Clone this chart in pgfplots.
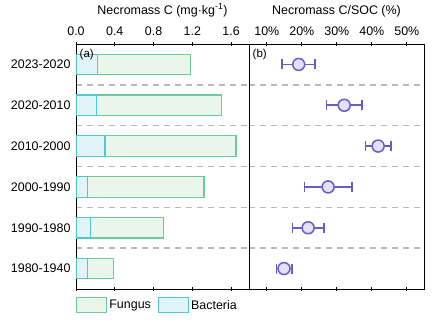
\documentclass[border=0pt]{standalone}
\usepackage{pgfplots}
\pgfplotsset{compat=1.18}
\usepackage{pgfplotstable}
\usepackage{fontspec}
\setmainfont{Liberation Sans}
\definecolor{fungE}{RGB}{110,200,160}
\definecolor{fungF}{RGB}{234,246,234}
\definecolor{bactE}{RGB}{80,200,212}
\definecolor{bactF}{RGB}{226,244,247}
\definecolor{purp}{RGB}{106,92,196}
\definecolor{purpF}{RGB}{228,225,246}
\definecolor{dashg}{RGB}{185,185,185}
\pgfplotstableread{
y bact fung
0 0.22 0.96
1 0.21 1.29
2 0.30 1.35
3 0.12 1.20
4 0.15 0.75
5 0.12 0.265
}\barsdata
\pgfplotstableread{
y x e
0 19.1 4.7
1 32.1 5.1
2 41.8 3.6
3 27.5 6.8
4 21.8 4.5
5 14.9 2.2
}\ratiodata
\pgfplotsset{common/.style={
  scale only axis, height=245bp,
  ymin=-0.5, ymax=5.5, y dir=reverse, ytick={0,...,5},
  minor ytick={0.5,1.5,2.5,3.5,4.5}, yminorgrids=true,
  minor grid style={dashg, dash pattern=on 6bp off 5bp, line width=1.4bp},
  minor tick length=0pt,
  xticklabel pos=upper, tick align=center, major tick length=4bp,
  ytick style={draw=none},
  axis line style={line width=0.8bp},
  xtick style={black, line width=0.8bp},
  ticklabel style={font=\fontsize{12.5}{14}\selectfont},
  xticklabel style={yshift=3bp},
  label style={font=\fontsize{12.5}{14}\selectfont},
  xlabel style={yshift=3bp},
  /pgf/number format/assume math mode=true,
}}
\begin{document}
\begin{tikzpicture}
\begin{axis}[common, name=L, at={(0,0)}, anchor=south west,
  width=173bp, xmin=0, xmax=1.785,
  xtick={0,0.4,0.8,1.2,1.6}, xticklabels={0.0,0.4,0.8,1.2,1.6},
  yticklabels={2023-2020,2020-2010,2010-2000,2000-1990,1990-1980,1980-1940},
  xlabel={Necromass C (mg·kg\textsuperscript{-1})},
  xbar stacked, bar width=0.5,
  reverse legend,
  legend image code/.code={\draw[#1] (0bp,-7.5bp) rectangle (30bp,7.5bp);},
  legend style={at={(0,0)}, anchor=north west, yshift=-8bp, draw=none, fill=none,
    inner sep=0pt, legend columns=2, font=\fontsize{12.5}{14}\selectfont,
    /tikz/every even column/.append style={column sep=5bp}},
]
\addplot[draw=bactE, fill=bactF, line width=1.2bp] table[x=bact, y=y]{\barsdata};
\addlegendentry{Bacteria}
\addplot[draw=fungE, fill=fungF, line width=1.2bp] table[x=fung, y=y]{\barsdata};
\addlegendentry{Fungus}
\end{axis}
\begin{axis}[common, name=R, at={(173bp,0)}, anchor=south west,
  width=175bp, xmin=4.9, xmax=54.9,
  xtick={10,20,30,40,50}, xticklabels={10\%,20\%,30\%,40\%,50\%},
  yticklabels={},
  xlabel={Necromass C/SOC (\%)},
]
\addplot[only marks, mark=*, mark size=6bp,
  mark options={draw=purp, fill=purpF, line width=1.5bp},
  error bars/.cd, x dir=both, x explicit,
  error bar style={purp, line width=1.6bp},
  error mark options={rotate=90, purp, mark size=5bp, line width=1.6bp}]
  table[x=x, y=y, x error=e]{\ratiodata};
\end{axis}
\node[anchor=north west, font=\fontsize{11.5}{12}\selectfont, inner sep=1bp] at ([xshift=2.5bp,yshift=-3.5bp]L.north west) {(a)};
\node[anchor=north west, font=\fontsize{11.5}{12}\selectfont, inner sep=1bp] at ([xshift=2.5bp,yshift=-3.5bp]R.north west) {(b)};
\pgfresetboundingbox
\path (-76bp,-33bp) rectangle (358bp,289bp);
\end{tikzpicture}
\end{document}
